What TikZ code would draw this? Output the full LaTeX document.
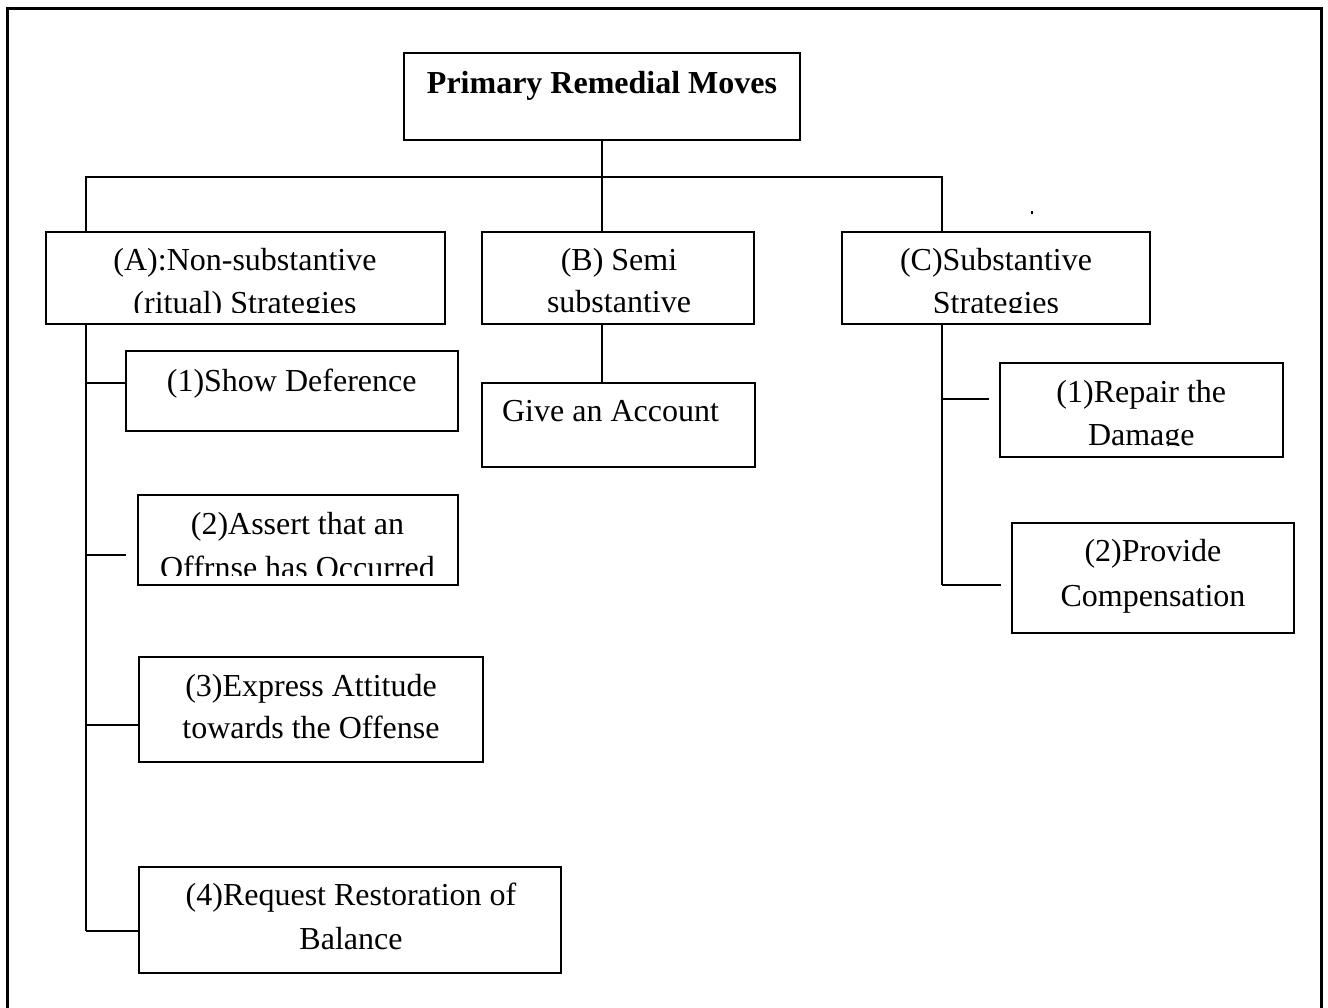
\documentclass[tikz,border=0pt]{standalone}
\usepackage{fontspec}
\setmainfont{Liberation Serif}

% box given by its corners: name, x1, y1, x2, y2
\newcommand\boxnode[5]{%
  \node[box,minimum width={(#4-#2)*1pt},minimum height={(#5-#3)*1pt}] (#1) at (#2,#3) {};}

\begin{document}
\begin{tikzpicture}[x=1pt,y=-1pt,
  box/.style={draw,line width=2pt,inner sep=0pt,outer sep=0pt,anchor=north west},
  txt/.style={anchor=base,inner sep=0pt,font=\fontsize{32}{40}\selectfont},
  title/.style={txt,font=\fontsize{32}{40}\selectfont\bfseries},
  link/.style={line width=2pt},
  frame/.style={line width=2.5pt}]
\useasboundingbox (0,0) rectangle (1328,1008);

% outer frame, open at the bottom
\draw[frame] (7.3,1015) -- (7.3,8.3) -- (1321.7,8.3) -- (1321.7,1015);

% boxes
\boxnode{root}{404}{53}{800}{140}
\boxnode{A}{46}{232}{445}{324}
\boxnode{B}{482}{232}{754}{324}
\boxnode{C}{842}{232}{1150}{324}
\boxnode{show}{125.7}{351}{458}{431}
\boxnode{assert}{137.7}{495}{458}{585}
\boxnode{express}{138.5}{657}{483}{761.5}
\boxnode{request}{138.5}{867}{561}{973}
\boxnode{give}{482}{383}{755}{467}
\boxnode{repair}{1000}{363}{1282.5}{457}
\boxnode{provide}{1012}{523}{1294}{633}

% labels
\node[title] (tRoot) at (602,94) {Primary Remedial Moves};

\node[txt] (tA1) at (245,270.5) {(A):Non-substantive};
\begin{scope}
  \clip (A.north west) rectangle ([yshift=11.5pt]A.south east);
  \node[txt] (tA2) at (245,313.5) {(ritual) Strategies};
\end{scope}

\node[txt] (tB1) at (619,270.5) {(B) Semi};
\node[txt] (tB2) at (619,312.5) {substantive};

\node[txt] (tC1) at (996,270.7) {(C)Substantive};
\begin{scope}
  \clip (C.north west) rectangle ([yshift=11.5pt]C.south east);
  \node[txt] (tC2) at (996,313.5) {Strategies};
\end{scope}

\node[txt] (tShow) at (291.7,391) {(1)Show Deference};

\node[txt] (tAs1) at (297.5,534.5) {(2)Assert that an};
\begin{scope}
  \clip (assert.north west) rectangle ([yshift=10pt]assert.south east);
  \node[txt] (tAs2) at (297.5,578.5) {Offrnse has Occurred};
\end{scope}

\node[txt] (tEx1) at (311,696.7) {(3)Express Attitude};
\node[txt] (tEx2) at (311,738) {towards the Offense};

\node[txt] (tRq1) at (351,905.7) {(4)Request Restoration of};
\node[txt] (tRq2) at (351,949.3) {Balance};

\node[txt] (tGive) at (610.5,421.7) {Give an Account};

\node[txt] (tRp1) at (1141.3,402.7) {(1)Repair the};
\begin{scope}
  \clip (repair.north west) rectangle ([yshift=12pt]repair.south east);
  \node[txt] (tRp2) at (1141.3,445.5) {Damage};
\end{scope}

\node[txt] (tPv1) at (1153,561.7) {(2)Provide};
\node[txt] (tPv2) at (1153,606) {Compensation};

% stray mark above the right branch
\fill (1030.8,210.6) rectangle (1032.8,214.2);

% junction points
\coordinate (busL) at (86,177);
\coordinate (busR) at (942,177);
\coordinate (jA1) at (86,383.3);
\coordinate (jA2) at (86,555);
\coordinate (eA2) at (126,555);
\coordinate (jA3) at (86,725);
\coordinate (jA4) at (86,931);
\coordinate (jC1) at (942,399);
\coordinate (eC1) at (988.7,399);
\coordinate (jC2) at (942,585);
\coordinate (eC2) at (1000.7,585);

% connectors
\draw[link] (root.south) -- (B.north -| root.south);
\draw[link] (A.north -| busL) -- (busL) -- (busR) -- (C.north -| busR);

\draw[link] (A.south -| jA1) -- (jA4);
\draw[link] (jA1) -- (jA1 -| show.west);
\draw[link] (jA2) -- (eA2);
\draw[link] (jA3) -- (jA3 -| express.west);
\draw[link] (jA4) -- (jA4 -| request.west);

\draw[link] (B.south -| root.south) -- (give.north -| root.south);

\draw[link] (C.south -| jC1) -- (jC2);
\draw[link] (jC1) -- (eC1);
\draw[link] (jC2) -- (eC2);
\end{tikzpicture}
\end{document}
